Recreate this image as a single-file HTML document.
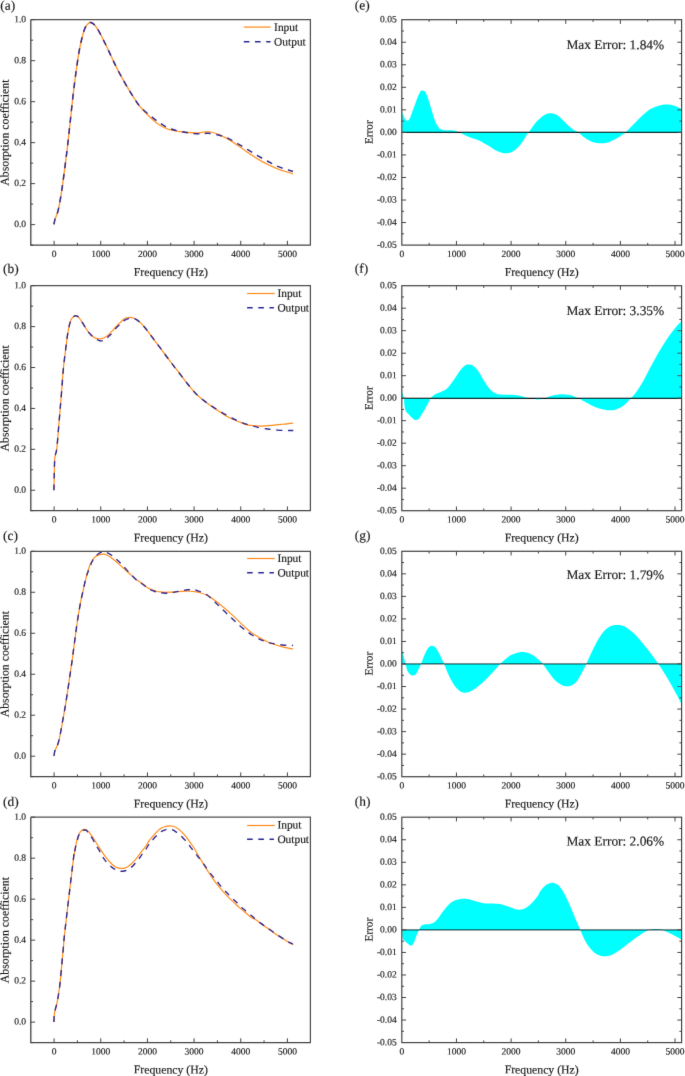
<!DOCTYPE html><html><head><meta charset="utf-8"><title>fig</title><style>html,body{margin:0;padding:0;background:#fff;overflow:hidden}svg{display:block}text{font-family:"Liberation Serif",serif;text-rendering:geometricPrecision;fill:#1a1a1a;stroke:#1a1a1a;stroke-width:0.16px}</style></head><body>
<svg width="685" height="1076" viewBox="0 0 685 1076">
<defs><filter id="bl" x="0" y="0" width="685" height="1076" filterUnits="userSpaceOnUse"><feConvolveMatrix order="3" kernelMatrix="0.0056 0.0638 0.0056 0.0638 0.7225 0.0638 0.0056 0.0638 0.0056" edgeMode="duplicate" preserveAlpha="false"/></filter></defs>
<rect width="685" height="1076" fill="#fff"/>
<g filter="url(#bl)">
<g>
<path d="M53.93 224.34C54.12 223.47 54.41 221.35 55.09 219.12C55.77 216.90 57.12 214.28 57.99 211.00C58.86 207.71 59.54 203.84 60.32 199.39C61.09 194.94 61.86 189.71 62.64 184.30C63.41 178.88 64.18 172.88 64.96 166.88C65.73 160.88 66.51 154.89 67.28 148.31C68.05 141.73 68.66 136.01 69.60 127.41C70.54 118.82 71.86 105.95 72.92 96.75C73.98 87.55 74.96 79.72 75.99 72.23C77.01 64.73 78.03 57.58 79.05 51.79C80.07 46.00 81.09 41.50 82.12 37.48C83.14 33.46 84.16 29.99 85.18 27.67C86.20 25.36 87.33 24.44 88.25 23.58C89.17 22.73 89.68 22.36 90.70 22.56C91.72 22.77 92.91 23.18 94.38 24.81C95.84 26.45 97.27 28.39 99.49 32.37C101.70 36.36 104.94 43.10 107.66 48.72C110.39 54.34 113.11 60.64 115.84 66.09C118.56 71.55 121.29 76.59 124.01 81.42C126.74 86.26 129.46 90.86 132.19 95.12C134.91 99.37 137.25 103.15 140.36 106.97C143.48 110.79 147.76 115.06 150.88 118.03C153.99 121.00 156.33 122.97 159.05 124.77C161.78 126.58 164.50 127.84 167.23 128.86C169.95 129.88 172.68 130.39 175.40 130.91C178.13 131.42 180.85 131.62 183.58 131.93C186.30 132.23 189.37 132.57 191.75 132.74C194.14 132.91 195.84 133.05 197.88 132.95C199.93 132.85 201.97 132.30 204.01 132.13C206.06 131.96 207.76 131.55 210.15 131.93C212.53 132.30 215.47 133.26 218.32 134.38C221.17 135.50 224.04 136.84 227.23 138.64C230.41 140.44 234.04 142.90 237.45 145.18C240.85 147.46 244.26 150.02 247.66 152.34C251.07 154.65 254.48 157.04 257.88 159.08C261.29 161.12 264.70 162.93 268.10 164.60C271.51 166.27 275.09 167.83 278.32 169.09C281.56 170.36 285.07 171.38 287.52 172.16C289.97 172.94 292.12 173.52 293.04 173.80" fill="none" stroke="#ff9a35" stroke-width="1.40" stroke-linejoin="round"/>
<path d="M53.93 224.34C54.12 223.47 54.41 221.35 55.09 219.12C55.77 216.90 57.12 214.28 57.99 211.00C58.86 207.71 59.54 203.84 60.32 199.39C61.09 194.94 61.86 189.71 62.64 184.30C63.41 178.88 64.18 172.88 64.96 166.88C65.73 160.88 66.51 154.89 67.28 148.31C68.05 141.73 68.66 136.01 69.60 127.41C70.54 118.82 71.86 105.95 72.92 96.75C73.98 87.55 74.96 79.72 75.99 72.23C77.01 64.73 78.03 57.58 79.05 51.79C80.07 46.00 81.09 41.50 82.12 37.48C83.14 33.46 84.16 29.99 85.18 27.67C86.20 25.36 87.33 24.44 88.25 23.58C89.17 22.73 89.68 22.36 90.70 22.56C91.72 22.77 92.91 23.18 94.38 24.81C95.84 26.45 97.27 28.39 99.49 32.37C101.70 36.36 104.94 43.10 107.66 48.72C110.39 54.34 113.11 60.64 115.84 66.09C118.56 71.55 121.29 76.59 124.01 81.42C126.74 86.26 129.46 90.86 132.19 95.12C134.91 99.37 137.25 103.46 140.36 106.97C143.48 110.48 147.76 113.60 150.88 116.19C153.99 118.78 156.33 120.65 159.05 122.53C161.78 124.40 164.50 126.14 167.23 127.43C169.95 128.73 172.68 129.54 175.40 130.29C178.13 131.04 180.85 131.42 183.58 131.93C186.30 132.44 189.03 133.05 191.75 133.36C194.48 133.66 197.20 133.77 199.93 133.77C202.65 133.77 205.04 133.15 208.10 133.36C211.17 133.56 215.13 134.21 218.32 134.99C221.51 135.77 224.04 136.60 227.23 138.03C230.41 139.45 234.04 141.61 237.45 143.55C240.85 145.49 244.26 147.64 247.66 149.68C251.07 151.72 254.48 153.83 257.88 155.81C261.29 157.79 264.70 159.73 268.10 161.53C271.51 163.34 274.57 165.11 278.32 166.64C282.07 168.18 288.13 169.95 290.58 170.73C293.04 171.51 292.63 171.24 293.04 171.34" fill="none" stroke="#2c2a90" stroke-width="1.50" stroke-dasharray="6.000 5.468" stroke-linejoin="round"/>
<path d="M30.80 19.70H310.40V245.10" fill="none" stroke="#505050" stroke-width="1.25"/>
<path d="M30.80 19.70V245.10H310.80" fill="none" stroke="#444" stroke-width="1.3"/>
<path d="M54.10 245.10v-4.3M100.76 245.10v-4.3M147.42 245.10v-4.3M194.08 245.10v-4.3M240.74 245.10v-4.3M287.40 245.10v-4.3M77.43 245.10v-2.3M124.09 245.10v-2.3M170.75 245.10v-2.3M217.41 245.10v-2.3M264.07 245.10v-2.3M30.80 224.61h4.3M30.80 183.63h4.3M30.80 142.65h4.3M30.80 101.66h4.3M30.80 60.68h4.3M30.80 19.70h4.3M30.80 245.10h2.3M30.80 204.12h2.3M30.80 163.14h2.3M30.80 122.15h2.3M30.80 81.17h2.3M30.80 40.19h2.3" fill="none" stroke="#444" stroke-width="1"/>
<text transform="rotate(0.03 54.10 256.90)" x="54.10" y="256.90" font-size="9.5" text-anchor="middle">0</text>
<text transform="rotate(0.03 100.76 256.90)" x="100.76" y="256.90" font-size="9.5" text-anchor="middle">1000</text>
<text transform="rotate(0.03 147.42 256.90)" x="147.42" y="256.90" font-size="9.5" text-anchor="middle">2000</text>
<text transform="rotate(0.03 194.08 256.90)" x="194.08" y="256.90" font-size="9.5" text-anchor="middle">3000</text>
<text transform="rotate(0.03 240.74 256.90)" x="240.74" y="256.90" font-size="9.5" text-anchor="middle">4000</text>
<text transform="rotate(0.03 287.40 256.90)" x="287.40" y="256.90" font-size="9.5" text-anchor="middle">5000</text>
<text transform="rotate(0.03 26.00 227.11)" x="26.00" y="227.11" font-size="9.5" text-anchor="end">0.0</text>
<text transform="rotate(0.03 26.00 186.13)" x="26.00" y="186.13" font-size="9.5" text-anchor="end">0.2</text>
<text transform="rotate(0.03 26.00 145.15)" x="26.00" y="145.15" font-size="9.5" text-anchor="end">0.4</text>
<text transform="rotate(0.03 26.00 104.16)" x="26.00" y="104.16" font-size="9.5" text-anchor="end">0.6</text>
<text transform="rotate(0.03 26.00 63.18)" x="26.00" y="63.18" font-size="9.5" text-anchor="end">0.8</text>
<text transform="rotate(0.03 26.00 22.20)" x="26.00" y="22.20" font-size="9.5" text-anchor="end">1.0</text>
<text transform="rotate(0.03 170.80 275.90)" x="170.80" y="275.90" font-size="11.75" text-anchor="middle">Frequency (Hz)</text>
<text transform="translate(8.60 132.60) rotate(-89.97)" font-size="11.8" text-anchor="middle">Absorption coefficient</text>
<text transform="rotate(0.03 0.30 9.70)" x="0.30" y="9.70" font-size="13.4">(a)</text>
<path d="M243.80 27.10h26.8" stroke="#ff9a35" stroke-width="1.40"/>
<path d="M243.80 41.70h26.8" stroke="#2c2a90" stroke-width="1.50" stroke-dasharray="5.6 5.6"/>
<text transform="rotate(0.03 274.10 31.10)" x="274.10" y="31.10" font-size="11.4">Input</text>
<text transform="rotate(0.03 274.10 45.40)" x="274.10" y="45.40" font-size="11.4">Output</text>
</g>
<g>
<path d="M402.10 111.77C402.35 112.42 403.10 114.42 403.61 115.66C404.12 116.91 404.56 118.37 405.15 119.22C405.75 120.07 406.51 120.76 407.19 120.76C407.87 120.76 408.56 120.24 409.24 119.22C409.92 118.20 410.61 116.33 411.29 114.63C411.97 112.93 412.64 110.89 413.33 109.02C414.01 107.14 414.70 105.26 415.38 103.39C416.06 101.51 416.73 99.48 417.41 97.78C418.09 96.08 418.78 94.38 419.46 93.18C420.15 91.99 420.65 90.93 421.50 90.62C422.35 90.31 423.71 90.66 424.57 91.34C425.42 92.02 425.94 93.21 426.62 94.71C427.30 96.20 427.97 98.27 428.65 100.32C429.33 102.36 430.02 104.66 430.70 106.96C431.39 109.26 432.06 111.90 432.74 114.12C433.42 116.33 434.11 118.47 434.79 120.26C435.47 122.05 436.14 123.61 436.82 124.85C437.50 126.09 438.19 126.96 438.88 127.71C439.56 128.46 440.06 128.93 440.91 129.34C441.76 129.75 442.61 130.01 443.98 130.16C445.34 130.32 447.56 130.22 449.10 130.27C450.63 130.32 451.82 130.26 453.18 130.46C454.55 130.66 454.83 130.51 457.27 131.50C459.71 132.48 464.33 134.94 467.85 136.39C471.38 137.84 475.26 138.79 478.44 140.20C481.61 141.61 484.08 143.20 486.91 144.85C489.73 146.51 492.90 148.84 495.37 150.15C497.84 151.45 499.96 152.16 501.72 152.69C503.49 153.22 504.37 153.39 505.96 153.32C507.54 153.25 509.48 153.04 511.25 152.26C513.01 151.49 514.78 150.25 516.54 148.66C518.30 147.08 520.07 145.14 521.83 142.74C523.60 140.34 525.96 136.03 527.12 134.27C528.29 132.51 527.41 134.09 528.82 132.15C530.23 130.21 533.73 124.92 535.59 122.63C537.45 120.33 538.38 119.73 540.00 118.39C541.62 117.05 543.53 115.43 545.29 114.58C547.06 113.74 548.82 113.31 550.58 113.31C552.35 113.31 554.11 113.74 555.88 114.58C557.64 115.43 559.23 116.70 561.17 118.39C563.11 120.09 565.40 122.80 567.52 124.74C569.64 126.68 572.10 128.80 573.87 130.04C575.63 131.27 576.34 130.92 578.10 132.15C579.87 133.39 582.16 135.86 584.45 137.45C586.75 139.03 589.04 140.69 591.86 141.68C594.68 142.67 598.39 143.37 601.39 143.37C604.39 143.37 607.21 142.56 609.85 141.68C612.50 140.80 614.97 139.39 617.26 138.08C619.56 136.77 622.20 134.83 623.61 133.85C625.02 132.86 624.14 133.67 625.73 132.15C627.32 130.64 630.49 127.39 633.14 124.74C635.78 122.10 638.78 118.85 641.61 116.28C644.43 113.70 647.25 111.06 650.07 109.29C652.90 107.53 655.72 106.50 658.54 105.69C661.36 104.88 664.36 104.42 667.01 104.42C669.65 104.42 672.03 104.95 674.42 105.69C676.80 106.43 680.15 108.34 681.30 108.87L681.30 132.40L402.10 132.40Z" fill="#00ffff" stroke="none"/>
<path d="M401.80 132.40H681.60" stroke="#000" stroke-opacity="0.95" stroke-width="1.3"/>
<rect x="401.80" y="19.70" width="279.80" height="225.40" fill="none" stroke="#444" stroke-width="1.2"/>
<path d="M456.45 245.10v-4.2M456.45 19.70v4.2M511.10 245.10v-4.2M511.10 19.70v4.2M565.75 245.10v-4.2M565.75 19.70v4.2M620.39 245.10v-4.2M620.39 19.70v4.2M675.04 245.10v-4.2M675.04 19.70v4.2M429.12 245.10v-2.2M429.12 19.70v2.2M483.77 245.10v-2.2M483.77 19.70v2.2M538.42 245.10v-2.2M538.42 19.70v2.2M593.07 245.10v-2.2M593.07 19.70v2.2M647.72 245.10v-2.2M647.72 19.70v2.2M401.80 42.24h4.2M681.60 42.24h-4.2M401.80 64.78h4.2M681.60 64.78h-4.2M401.80 87.32h4.2M681.60 87.32h-4.2M401.80 109.86h4.2M681.60 109.86h-4.2M401.80 132.40h4.2M681.60 132.40h-4.2M401.80 154.94h4.2M681.60 154.94h-4.2M401.80 177.48h4.2M681.60 177.48h-4.2M401.80 200.02h4.2M681.60 200.02h-4.2M401.80 222.56h4.2M681.60 222.56h-4.2M401.80 30.97h2.2M681.60 30.97h-2.2M401.80 53.51h2.2M681.60 53.51h-2.2M401.80 76.05h2.2M681.60 76.05h-2.2M401.80 98.59h2.2M681.60 98.59h-2.2M401.80 121.13h2.2M681.60 121.13h-2.2M401.80 143.67h2.2M681.60 143.67h-2.2M401.80 166.21h2.2M681.60 166.21h-2.2M401.80 188.75h2.2M681.60 188.75h-2.2M401.80 211.29h2.2M681.60 211.29h-2.2M401.80 233.83h2.2M681.60 233.83h-2.2" fill="none" stroke="#444" stroke-width="1"/>
<text transform="rotate(0.03 401.80 256.90)" x="401.80" y="256.90" font-size="9.5" text-anchor="middle">0</text>
<text transform="rotate(0.03 456.45 256.90)" x="456.45" y="256.90" font-size="9.5" text-anchor="middle">1000</text>
<text transform="rotate(0.03 511.10 256.90)" x="511.10" y="256.90" font-size="9.5" text-anchor="middle">2000</text>
<text transform="rotate(0.03 565.75 256.90)" x="565.75" y="256.90" font-size="9.5" text-anchor="middle">3000</text>
<text transform="rotate(0.03 620.39 256.90)" x="620.39" y="256.90" font-size="9.5" text-anchor="middle">4000</text>
<text transform="rotate(0.03 675.04 256.90)" x="675.04" y="256.90" font-size="9.5" text-anchor="middle">5000</text>
<text transform="rotate(0.03 396.70 22.30)" x="396.70" y="22.30" font-size="9.5" text-anchor="end">0.05</text>
<text transform="rotate(0.03 396.70 44.84)" x="396.70" y="44.84" font-size="9.5" text-anchor="end">0.04</text>
<text transform="rotate(0.03 396.70 67.38)" x="396.70" y="67.38" font-size="9.5" text-anchor="end">0.03</text>
<text transform="rotate(0.03 396.70 89.92)" x="396.70" y="89.92" font-size="9.5" text-anchor="end">0.02</text>
<text transform="rotate(0.03 396.70 112.46)" x="396.70" y="112.46" font-size="9.5" text-anchor="end">0.01</text>
<text transform="rotate(0.03 396.70 135.00)" x="396.70" y="135.00" font-size="9.5" text-anchor="end">0.00</text>
<text transform="rotate(0.03 396.70 157.54)" x="396.70" y="157.54" font-size="9.5" text-anchor="end">-0.01</text>
<text transform="rotate(0.03 396.70 180.08)" x="396.70" y="180.08" font-size="9.5" text-anchor="end">-0.02</text>
<text transform="rotate(0.03 396.70 202.62)" x="396.70" y="202.62" font-size="9.5" text-anchor="end">-0.03</text>
<text transform="rotate(0.03 396.70 225.16)" x="396.70" y="225.16" font-size="9.5" text-anchor="end">-0.04</text>
<text transform="rotate(0.03 396.70 247.70)" x="396.70" y="247.70" font-size="9.5" text-anchor="end">-0.05</text>
<text transform="rotate(0.03 541.70 275.90)" x="541.70" y="275.90" font-size="11.75" text-anchor="middle">Frequency (Hz)</text>
<text transform="translate(372.40 132.20) rotate(-89.97)" font-size="11.3" text-anchor="middle">Error</text>
<text transform="rotate(0.03 354.8 9.50)" x="354.8" y="9.50" font-size="13.4">(e)</text>
<text transform="rotate(0.03 566.4 49.10)" x="566.4" y="49.10" font-size="13.4">Max Error: 1.84%</text>
</g>
<g>
<path d="M53.93 490.35C53.99 487.75 54.12 480.13 54.27 474.75C54.42 469.36 54.42 462.30 54.82 458.03C55.23 453.75 56.13 453.75 56.72 449.11C57.31 444.46 57.83 436.66 58.39 430.16C58.95 423.66 59.51 416.78 60.06 410.10C60.62 403.41 61.16 397.15 61.74 390.03C62.31 382.92 62.75 374.91 63.50 367.40C64.25 359.89 65.61 350.08 66.24 344.96C66.87 339.84 66.92 339.08 67.26 336.68C67.60 334.28 67.94 332.42 68.28 330.55C68.63 328.67 68.97 326.89 69.31 325.44C69.65 323.99 69.95 322.97 70.33 321.86C70.70 320.75 70.87 319.77 71.55 318.80C72.24 317.82 73.43 316.46 74.42 316.04C75.40 315.61 76.43 315.56 77.48 316.24C78.54 316.92 79.90 319.02 80.75 320.12C81.60 321.23 81.94 321.86 82.59 322.88C83.24 323.91 83.95 325.15 84.64 326.26C85.32 327.36 86.00 328.50 86.68 329.53C87.36 330.55 88.04 331.54 88.72 332.39C89.40 333.24 90.09 333.95 90.77 334.64C91.45 335.32 92.13 335.96 92.81 336.47C93.49 336.99 94.17 337.36 94.85 337.70C95.54 338.04 95.88 338.31 96.90 338.52C97.92 338.72 99.45 339.23 100.99 338.93C102.52 338.62 104.90 337.34 106.09 336.68C107.29 336.01 107.37 335.62 108.14 334.94C108.91 334.26 109.88 333.41 110.69 332.59C111.51 331.77 112.28 330.89 113.04 330.04C113.81 329.18 114.49 328.37 115.29 327.48C116.09 326.60 117.00 325.57 117.85 324.72C118.70 323.87 119.34 323.36 120.40 322.37C121.46 321.38 123.05 319.56 124.20 318.80C125.34 318.03 126.24 318.00 127.26 317.77C128.28 317.55 129.31 317.43 130.33 317.47C131.35 317.50 132.37 317.64 133.39 317.98C134.42 318.32 135.44 318.86 136.46 319.51C137.48 320.16 138.50 320.96 139.53 321.86C140.55 322.76 141.57 323.82 142.59 324.93C143.61 326.03 144.64 327.23 145.66 328.50C146.68 329.78 147.70 331.23 148.72 332.59C149.74 333.95 150.77 335.32 151.79 336.68C152.81 338.04 153.83 339.40 154.85 340.77C155.88 342.13 156.90 343.49 157.92 344.85C158.94 346.22 159.96 347.56 160.99 348.94C162.01 350.32 163.03 351.75 164.05 353.13C165.07 354.51 166.09 355.86 167.12 357.22C168.14 358.58 169.16 359.94 170.18 361.31C171.20 362.67 172.45 364.33 173.25 365.39C174.05 366.45 174.03 366.43 175.00 367.66C175.97 368.89 177.73 371.02 179.09 372.77C180.45 374.53 181.81 376.40 183.18 378.19C184.54 379.98 185.90 381.80 187.26 383.50C188.63 385.21 189.99 386.79 191.35 388.41C192.71 390.03 194.08 391.78 195.44 393.21C196.80 394.64 198.16 395.80 199.53 396.99C200.89 398.18 202.25 399.29 203.61 400.36C204.98 401.44 206.34 402.41 207.70 403.43C209.06 404.45 210.43 405.51 211.79 406.50C213.15 407.48 214.51 408.42 215.88 409.36C217.24 410.29 218.60 411.23 219.96 412.12C221.33 413.00 222.69 413.85 224.05 414.67C225.41 415.49 226.78 416.29 228.14 417.02C229.50 417.75 230.86 418.44 232.23 419.07C233.59 419.70 234.95 420.26 236.31 420.80C237.68 421.35 238.92 421.73 240.40 422.34C241.89 422.94 243.56 423.91 245.22 424.43C246.87 424.95 248.63 425.20 250.33 425.45C252.03 425.71 253.73 425.86 255.44 425.96C257.14 426.07 258.84 426.08 260.55 426.07C262.25 426.05 263.95 425.96 265.66 425.86C267.36 425.76 269.06 425.61 270.77 425.45C272.47 425.30 274.17 425.11 275.88 424.94C277.58 424.77 279.28 424.60 280.99 424.43C282.69 424.26 284.56 424.09 286.09 423.92C287.63 423.75 288.99 423.55 290.18 423.41C291.37 423.27 292.74 423.15 293.25 423.10" fill="none" stroke="#ff8c1a" stroke-width="1.20" stroke-linejoin="round"/>
<path d="M53.93 490.35C53.99 487.75 54.12 480.13 54.27 474.75C54.42 469.36 54.42 462.30 54.82 458.03C55.23 453.75 56.13 453.75 56.72 449.11C57.31 444.46 57.83 436.66 58.39 430.16C58.95 423.66 59.51 416.78 60.06 410.10C60.62 403.41 61.16 397.15 61.74 390.03C62.31 382.92 62.75 374.91 63.50 367.40C64.25 359.89 65.61 350.08 66.24 344.96C66.87 339.84 66.92 339.08 67.26 336.68C67.60 334.28 67.94 332.42 68.28 330.55C68.63 328.67 68.97 326.89 69.31 325.44C69.65 323.99 69.95 322.97 70.33 321.86C70.70 320.75 70.87 319.77 71.55 318.80C72.24 317.82 73.43 316.46 74.42 316.04C75.40 315.61 76.43 315.56 77.48 316.24C78.54 316.92 79.90 319.02 80.75 320.12C81.60 321.23 81.94 321.86 82.59 322.88C83.24 323.91 83.95 325.15 84.64 326.26C85.32 327.36 86.00 328.50 86.68 329.53C87.36 330.55 88.04 331.54 88.72 332.39C89.40 333.24 90.09 333.94 90.77 334.64C91.45 335.33 92.13 336.01 92.81 336.58C93.49 337.14 94.09 337.48 94.85 338.01C95.62 338.54 96.56 339.28 97.41 339.74C98.26 340.20 99.11 340.60 99.96 340.77C100.82 340.94 101.67 340.89 102.52 340.77C103.37 340.65 104.05 340.80 105.07 340.05C106.09 339.30 107.71 337.21 108.65 336.27C109.59 335.33 110.01 335.08 110.69 334.43C111.37 333.78 111.80 333.51 112.74 332.39C113.67 331.26 115.12 329.01 116.31 327.69C117.51 326.36 118.92 325.34 119.89 324.42C120.86 323.50 121.27 322.93 122.15 322.17C123.04 321.40 123.86 320.50 125.22 319.82C126.58 319.14 128.97 318.34 130.33 318.08C131.69 317.82 132.37 318.03 133.39 318.28C134.42 318.54 135.44 319.02 136.46 319.61C137.48 320.21 138.50 320.98 139.53 321.86C140.55 322.75 141.57 323.82 142.59 324.93C143.61 326.03 144.64 327.23 145.66 328.50C146.68 329.78 147.70 331.23 148.72 332.59C149.74 333.95 150.77 335.32 151.79 336.68C152.81 338.04 153.83 339.40 154.85 340.77C155.88 342.13 156.90 343.49 157.92 344.85C158.94 346.22 159.96 347.56 160.99 348.94C162.01 350.32 163.03 351.75 164.05 353.13C165.07 354.51 166.09 355.86 167.12 357.22C168.14 358.58 169.16 359.94 170.18 361.31C171.20 362.67 172.45 364.33 173.25 365.39C174.05 366.45 174.03 366.43 175.00 367.66C175.97 368.89 177.73 371.02 179.09 372.77C180.45 374.53 181.81 376.40 183.18 378.19C184.54 379.98 185.90 381.80 187.26 383.50C188.63 385.21 189.99 386.79 191.35 388.41C192.71 390.03 194.08 391.78 195.44 393.21C196.80 394.64 198.16 395.80 199.53 396.99C200.89 398.18 202.25 399.31 203.61 400.36C204.98 401.42 206.34 402.36 207.70 403.33C209.06 404.30 210.43 405.29 211.79 406.19C213.15 407.09 214.51 407.88 215.88 408.74C217.24 409.61 218.60 410.55 219.96 411.40C221.33 412.25 222.69 413.05 224.05 413.85C225.41 414.65 226.78 415.47 228.14 416.20C229.50 416.94 230.86 417.60 232.23 418.25C233.59 418.90 234.95 419.49 236.31 420.09C237.68 420.68 238.92 421.20 240.40 421.82C241.89 422.45 243.56 423.25 245.22 423.82C246.87 424.39 248.63 424.77 250.33 425.25C252.03 425.73 253.73 426.24 255.44 426.68C257.14 427.12 258.50 427.51 260.55 427.91C262.59 428.30 265.83 428.76 267.70 429.03C269.57 429.30 270.09 429.35 271.79 429.54C273.49 429.73 275.88 430.00 277.92 430.15C279.96 430.31 282.18 430.39 284.05 430.46C285.92 430.53 287.63 430.56 289.16 430.56C290.69 430.56 292.57 430.48 293.25 430.46" fill="none" stroke="#2c2a90" stroke-width="1.40" stroke-dasharray="6.000 5.703" stroke-linejoin="round"/>
<path d="M30.80 285.70H310.40V510.70" fill="none" stroke="#505050" stroke-width="1.25"/>
<path d="M30.80 285.70V510.70H310.80" fill="none" stroke="#444" stroke-width="1.3"/>
<path d="M54.10 510.70v-4.3M100.76 510.70v-4.3M147.42 510.70v-4.3M194.08 510.70v-4.3M240.74 510.70v-4.3M287.40 510.70v-4.3M77.43 510.70v-2.3M124.09 510.70v-2.3M170.75 510.70v-2.3M217.41 510.70v-2.3M264.07 510.70v-2.3M30.80 490.25h4.3M30.80 449.34h4.3M30.80 408.43h4.3M30.80 367.52h4.3M30.80 326.61h4.3M30.80 285.70h4.3M30.80 510.70h2.3M30.80 469.79h2.3M30.80 428.88h2.3M30.80 387.97h2.3M30.80 347.06h2.3M30.80 306.15h2.3" fill="none" stroke="#444" stroke-width="1"/>
<text transform="rotate(0.03 54.10 522.50)" x="54.10" y="522.50" font-size="9.5" text-anchor="middle">0</text>
<text transform="rotate(0.03 100.76 522.50)" x="100.76" y="522.50" font-size="9.5" text-anchor="middle">1000</text>
<text transform="rotate(0.03 147.42 522.50)" x="147.42" y="522.50" font-size="9.5" text-anchor="middle">2000</text>
<text transform="rotate(0.03 194.08 522.50)" x="194.08" y="522.50" font-size="9.5" text-anchor="middle">3000</text>
<text transform="rotate(0.03 240.74 522.50)" x="240.74" y="522.50" font-size="9.5" text-anchor="middle">4000</text>
<text transform="rotate(0.03 287.40 522.50)" x="287.40" y="522.50" font-size="9.5" text-anchor="middle">5000</text>
<text transform="rotate(0.03 26.00 492.75)" x="26.00" y="492.75" font-size="9.5" text-anchor="end">0.0</text>
<text transform="rotate(0.03 26.00 451.84)" x="26.00" y="451.84" font-size="9.5" text-anchor="end">0.2</text>
<text transform="rotate(0.03 26.00 410.93)" x="26.00" y="410.93" font-size="9.5" text-anchor="end">0.4</text>
<text transform="rotate(0.03 26.00 370.02)" x="26.00" y="370.02" font-size="9.5" text-anchor="end">0.6</text>
<text transform="rotate(0.03 26.00 329.11)" x="26.00" y="329.11" font-size="9.5" text-anchor="end">0.8</text>
<text transform="rotate(0.03 26.00 288.20)" x="26.00" y="288.20" font-size="9.5" text-anchor="end">1.0</text>
<text transform="rotate(0.03 170.80 541.50)" x="170.80" y="541.50" font-size="11.75" text-anchor="middle">Frequency (Hz)</text>
<text transform="translate(8.60 398.40) rotate(-89.97)" font-size="11.8" text-anchor="middle">Absorption coefficient</text>
<text transform="rotate(0.03 3.10 272.90)" x="3.10" y="272.90" font-size="13.4">(b)</text>
<path d="M247.10 293.50h27.6" stroke="#ff8c1a" stroke-width="1.20"/>
<path d="M247.10 307.70h26.8" stroke="#2c2a90" stroke-width="1.40" stroke-dasharray="5.6 5.6"/>
<text transform="rotate(0.03 277.40 297.10)" x="277.40" y="297.10" font-size="11.4">Input</text>
<text transform="rotate(0.03 277.40 311.40)" x="277.40" y="311.40" font-size="11.4">Output</text>
</g>
<g>
<path d="M402.10 391.50C402.40 392.59 403.52 395.59 403.93 398.06C404.34 400.53 404.21 404.06 404.56 406.31C404.91 408.57 405.37 410.30 406.04 411.61C406.71 412.91 407.45 413.02 408.58 414.15C409.71 415.27 411.58 417.39 412.82 418.38C414.05 419.37 414.93 420.07 415.99 420.07C417.05 420.07 417.93 419.79 419.17 418.38C420.40 416.97 421.99 413.97 423.40 411.61C424.81 409.24 426.40 406.45 427.64 404.20C428.87 401.94 429.58 399.72 430.81 398.06C432.05 396.40 433.46 395.24 435.04 394.25C436.63 393.26 438.40 393.05 440.34 392.13C442.28 391.21 444.57 390.61 446.69 388.74C448.80 386.87 450.92 383.81 453.04 380.91C455.15 378.02 457.45 373.93 459.39 371.39C461.33 368.85 463.09 366.84 464.68 365.67C466.27 364.51 467.50 364.40 468.91 364.40C470.32 364.40 471.56 364.51 473.15 365.67C474.73 366.84 476.50 368.67 478.44 371.39C480.38 374.10 482.67 378.80 484.79 381.97C486.91 385.15 489.02 388.43 491.14 390.44C493.26 392.45 495.37 393.33 497.49 394.04C499.61 394.74 501.37 394.57 503.84 394.67C506.31 394.78 509.84 394.53 512.31 394.67C514.78 394.81 516.54 395.09 518.66 395.52C520.77 395.94 523.24 396.79 525.01 397.21C526.77 397.64 527.48 397.71 529.24 398.06C531.00 398.41 533.80 399.12 535.59 399.33C537.38 399.54 538.21 399.61 540.00 399.33C541.79 399.05 544.23 398.27 546.35 397.64C548.47 397.00 550.23 396.08 552.70 395.52C555.17 394.95 558.35 394.32 561.17 394.25C563.99 394.18 566.99 394.53 569.64 395.09C572.28 395.66 575.46 397.07 577.04 397.64C578.63 398.20 577.57 397.64 579.16 398.48C580.75 399.33 583.92 401.30 586.57 402.72C589.22 404.13 592.21 405.82 595.04 406.95C597.86 408.08 601.03 408.92 603.50 409.49C605.97 410.05 607.74 410.34 609.85 410.34C611.97 410.34 614.09 410.16 616.20 409.49C618.32 408.82 620.61 407.65 622.55 406.31C624.50 404.97 626.44 402.79 627.85 401.45C629.26 400.10 629.47 400.07 631.02 398.27C632.57 396.47 635.10 393.58 637.16 390.65C639.22 387.72 641.32 384.37 643.41 380.70C645.49 377.03 647.59 372.52 649.65 368.64C651.71 364.75 653.74 361.01 655.79 357.42C657.83 353.82 659.86 350.40 661.93 347.04C663.99 343.69 666.11 340.31 668.19 337.31C670.27 334.31 672.55 331.38 674.42 329.05C676.28 326.72 678.24 324.64 679.39 323.34C680.54 322.03 680.98 321.57 681.30 321.22L681.30 398.40L402.10 398.40Z" fill="#00ffff" stroke="none"/>
<path d="M401.80 398.40H681.60" stroke="#000" stroke-opacity="0.95" stroke-width="1.3"/>
<rect x="401.80" y="285.70" width="279.80" height="225.00" fill="none" stroke="#444" stroke-width="1.2"/>
<path d="M456.45 510.70v-4.2M456.45 285.70v4.2M511.10 510.70v-4.2M511.10 285.70v4.2M565.75 510.70v-4.2M565.75 285.70v4.2M620.39 510.70v-4.2M620.39 285.70v4.2M675.04 510.70v-4.2M675.04 285.70v4.2M429.12 510.70v-2.2M429.12 285.70v2.2M483.77 510.70v-2.2M483.77 285.70v2.2M538.42 510.70v-2.2M538.42 285.70v2.2M593.07 510.70v-2.2M593.07 285.70v2.2M647.72 510.70v-2.2M647.72 285.70v2.2M401.80 308.20h4.2M681.60 308.20h-4.2M401.80 330.70h4.2M681.60 330.70h-4.2M401.80 353.20h4.2M681.60 353.20h-4.2M401.80 375.70h4.2M681.60 375.70h-4.2M401.80 398.20h4.2M681.60 398.20h-4.2M401.80 420.70h4.2M681.60 420.70h-4.2M401.80 443.20h4.2M681.60 443.20h-4.2M401.80 465.70h4.2M681.60 465.70h-4.2M401.80 488.20h4.2M681.60 488.20h-4.2M401.80 296.95h2.2M681.60 296.95h-2.2M401.80 319.45h2.2M681.60 319.45h-2.2M401.80 341.95h2.2M681.60 341.95h-2.2M401.80 364.45h2.2M681.60 364.45h-2.2M401.80 386.95h2.2M681.60 386.95h-2.2M401.80 409.45h2.2M681.60 409.45h-2.2M401.80 431.95h2.2M681.60 431.95h-2.2M401.80 454.45h2.2M681.60 454.45h-2.2M401.80 476.95h2.2M681.60 476.95h-2.2M401.80 499.45h2.2M681.60 499.45h-2.2" fill="none" stroke="#444" stroke-width="1"/>
<text transform="rotate(0.03 401.80 522.50)" x="401.80" y="522.50" font-size="9.5" text-anchor="middle">0</text>
<text transform="rotate(0.03 456.45 522.50)" x="456.45" y="522.50" font-size="9.5" text-anchor="middle">1000</text>
<text transform="rotate(0.03 511.10 522.50)" x="511.10" y="522.50" font-size="9.5" text-anchor="middle">2000</text>
<text transform="rotate(0.03 565.75 522.50)" x="565.75" y="522.50" font-size="9.5" text-anchor="middle">3000</text>
<text transform="rotate(0.03 620.39 522.50)" x="620.39" y="522.50" font-size="9.5" text-anchor="middle">4000</text>
<text transform="rotate(0.03 675.04 522.50)" x="675.04" y="522.50" font-size="9.5" text-anchor="middle">5000</text>
<text transform="rotate(0.03 396.70 288.30)" x="396.70" y="288.30" font-size="9.5" text-anchor="end">0.05</text>
<text transform="rotate(0.03 396.70 310.80)" x="396.70" y="310.80" font-size="9.5" text-anchor="end">0.04</text>
<text transform="rotate(0.03 396.70 333.30)" x="396.70" y="333.30" font-size="9.5" text-anchor="end">0.03</text>
<text transform="rotate(0.03 396.70 355.80)" x="396.70" y="355.80" font-size="9.5" text-anchor="end">0.02</text>
<text transform="rotate(0.03 396.70 378.30)" x="396.70" y="378.30" font-size="9.5" text-anchor="end">0.01</text>
<text transform="rotate(0.03 396.70 400.80)" x="396.70" y="400.80" font-size="9.5" text-anchor="end">0.00</text>
<text transform="rotate(0.03 396.70 423.30)" x="396.70" y="423.30" font-size="9.5" text-anchor="end">-0.01</text>
<text transform="rotate(0.03 396.70 445.80)" x="396.70" y="445.80" font-size="9.5" text-anchor="end">-0.02</text>
<text transform="rotate(0.03 396.70 468.30)" x="396.70" y="468.30" font-size="9.5" text-anchor="end">-0.03</text>
<text transform="rotate(0.03 396.70 490.80)" x="396.70" y="490.80" font-size="9.5" text-anchor="end">-0.04</text>
<text transform="rotate(0.03 396.70 513.30)" x="396.70" y="513.30" font-size="9.5" text-anchor="end">-0.05</text>
<text transform="rotate(0.03 541.70 541.50)" x="541.70" y="541.50" font-size="11.75" text-anchor="middle">Frequency (Hz)</text>
<text transform="translate(372.40 398.20) rotate(-89.97)" font-size="11.3" text-anchor="middle">Error</text>
<text transform="rotate(0.03 354.8 272.70)" x="354.8" y="272.70" font-size="13.4">(f)</text>
<text transform="rotate(0.03 566.4 314.90)" x="566.4" y="314.90" font-size="13.4">Max Error: 3.35%</text>
</g>
<g>
<path d="M53.93 755.91C54.12 754.98 54.40 752.29 55.05 750.33C55.70 748.38 57.00 746.71 57.83 744.20C58.67 741.70 59.32 738.82 60.06 735.29C60.81 731.76 61.46 727.67 62.29 723.03C63.13 718.38 64.15 712.99 65.08 707.42C66.01 701.85 66.94 695.72 67.87 689.59C68.80 683.46 69.90 675.81 70.65 670.64C71.41 665.46 71.87 662.45 72.41 658.54C72.94 654.63 73.38 650.88 73.87 647.15C74.36 643.43 74.84 639.85 75.33 636.20C75.82 632.55 76.24 629.03 76.79 625.26C77.34 621.48 77.94 617.59 78.61 613.58C79.28 609.56 80.01 605.18 80.80 601.17C81.59 597.15 82.47 593.41 83.36 589.49C84.25 585.57 85.24 581.14 86.13 577.64C87.02 574.13 87.83 570.99 88.69 568.44C89.54 565.88 90.30 564.09 91.24 562.31C92.18 560.52 93.28 558.87 94.31 557.71C95.33 556.55 96.35 555.92 97.37 555.36C98.39 554.80 99.42 554.54 100.44 554.34C101.46 554.13 102.48 554.03 103.50 554.13C104.53 554.23 105.38 554.44 106.57 554.95C107.76 555.46 109.12 556.14 110.66 557.20C112.19 558.25 114.06 559.84 115.77 561.28C117.47 562.73 119.17 564.35 120.88 565.88C122.58 567.42 124.28 568.95 125.99 570.48C127.69 572.01 129.22 573.46 131.09 575.08C132.97 576.70 135.18 578.66 137.23 580.19C139.27 581.72 141.53 582.98 143.36 584.28C145.18 585.58 146.69 587.04 148.18 587.99C149.66 588.93 150.90 589.38 152.26 589.93C153.63 590.47 154.99 590.91 156.35 591.26C157.71 591.60 158.91 591.80 160.44 591.97C161.97 592.14 163.84 592.24 165.55 592.28C167.25 592.31 168.95 592.24 170.66 592.18C172.36 592.11 174.06 591.99 175.77 591.87C177.47 591.75 179.17 591.58 180.88 591.46C182.58 591.34 184.28 591.19 185.99 591.15C187.69 591.12 189.56 591.15 191.09 591.26C192.63 591.36 193.93 591.59 195.18 591.77C196.44 591.94 196.68 591.73 198.61 592.29C200.55 592.86 204.06 593.79 206.79 595.15C209.51 596.52 212.24 598.49 214.96 600.47C217.69 602.44 220.41 604.73 223.14 607.01C225.86 609.29 228.59 611.67 231.31 614.16C234.04 616.65 236.76 619.37 239.49 621.93C242.21 624.48 244.94 627.21 247.66 629.49C250.39 631.77 253.11 633.85 255.84 635.62C258.56 637.39 261.29 638.75 264.01 640.12C266.74 641.48 269.12 642.67 272.19 643.80C275.26 644.92 278.93 645.98 282.41 646.86C285.88 647.75 291.27 648.73 293.04 649.11" fill="none" stroke="#ff8c1a" stroke-width="1.20" stroke-linejoin="round"/>
<path d="M53.93 755.91C54.12 754.98 54.40 752.29 55.05 750.33C55.70 748.38 57.00 746.71 57.83 744.20C58.67 741.70 59.32 738.82 60.06 735.29C60.81 731.76 61.46 727.67 62.29 723.03C63.13 718.38 64.15 712.99 65.08 707.42C66.01 701.85 66.94 695.72 67.87 689.59C68.80 683.46 69.90 675.81 70.65 670.64C71.41 665.46 71.87 662.45 72.41 658.54C72.94 654.63 73.38 650.88 73.87 647.15C74.36 643.43 74.84 639.85 75.33 636.20C75.82 632.55 76.24 629.03 76.79 625.26C77.34 621.48 77.94 617.59 78.61 613.58C79.28 609.56 80.01 605.18 80.80 601.17C81.59 597.15 82.47 593.50 83.36 589.49C84.25 585.48 85.29 580.21 86.13 577.12C86.97 574.04 87.36 573.63 88.38 570.99C89.40 568.35 90.93 563.84 92.26 561.28C93.59 558.73 95.07 557.06 96.35 555.66C97.63 554.27 98.82 553.54 99.93 552.91C101.03 552.27 102.06 552.02 102.99 551.88C103.93 551.75 104.36 551.68 105.55 552.09C106.74 552.50 108.61 553.40 110.15 554.34C111.68 555.27 113.21 556.41 114.74 557.71C116.28 559.00 117.90 560.69 119.34 562.10C120.79 563.52 121.81 564.45 123.43 566.19C125.05 567.93 127.01 570.36 129.05 572.53C131.09 574.69 133.91 577.55 135.69 579.17C137.48 580.79 138.08 580.99 139.78 582.23C141.48 583.48 144.43 585.52 145.91 586.63C147.40 587.74 147.29 588.13 148.69 588.91C150.09 589.68 152.52 590.66 154.31 591.26C156.09 591.85 157.54 592.14 159.42 592.48C161.29 592.82 163.67 593.23 165.55 593.30C167.42 593.37 168.78 593.16 170.66 592.89C172.53 592.62 174.91 592.02 176.79 591.66C178.66 591.31 180.02 591.07 181.90 590.74C183.77 590.42 186.07 589.89 188.03 589.72C189.99 589.55 191.89 589.50 193.65 589.72C195.41 589.95 196.42 590.23 198.61 591.07C200.80 591.90 204.06 592.94 206.79 594.74C209.51 596.55 212.24 599.34 214.96 601.90C217.69 604.45 220.41 607.42 223.14 610.07C225.86 612.73 228.59 615.28 231.31 617.84C234.04 620.39 236.76 623.05 239.49 625.40C242.21 627.75 244.94 629.97 247.66 631.94C250.39 633.92 253.11 635.76 255.84 637.26C258.56 638.75 261.29 639.91 264.01 640.93C266.74 641.96 269.12 642.71 272.19 643.39C275.26 644.07 278.93 644.68 282.41 645.02C285.88 645.36 291.27 645.36 293.04 645.43" fill="none" stroke="#2c2a90" stroke-width="1.40" stroke-dasharray="6.000 5.465" stroke-linejoin="round"/>
<path d="M30.80 551.30H310.40V776.70" fill="none" stroke="#505050" stroke-width="1.25"/>
<path d="M30.80 551.30V776.70H310.80" fill="none" stroke="#444" stroke-width="1.3"/>
<path d="M54.10 776.70v-4.3M100.76 776.70v-4.3M147.42 776.70v-4.3M194.08 776.70v-4.3M240.74 776.70v-4.3M287.40 776.70v-4.3M77.43 776.70v-2.3M124.09 776.70v-2.3M170.75 776.70v-2.3M217.41 776.70v-2.3M264.07 776.70v-2.3M30.80 756.21h4.3M30.80 715.23h4.3M30.80 674.25h4.3M30.80 633.26h4.3M30.80 592.28h4.3M30.80 551.30h4.3M30.80 776.70h2.3M30.80 735.72h2.3M30.80 694.74h2.3M30.80 653.75h2.3M30.80 612.77h2.3M30.80 571.79h2.3" fill="none" stroke="#444" stroke-width="1"/>
<text transform="rotate(0.03 54.10 788.50)" x="54.10" y="788.50" font-size="9.5" text-anchor="middle">0</text>
<text transform="rotate(0.03 100.76 788.50)" x="100.76" y="788.50" font-size="9.5" text-anchor="middle">1000</text>
<text transform="rotate(0.03 147.42 788.50)" x="147.42" y="788.50" font-size="9.5" text-anchor="middle">2000</text>
<text transform="rotate(0.03 194.08 788.50)" x="194.08" y="788.50" font-size="9.5" text-anchor="middle">3000</text>
<text transform="rotate(0.03 240.74 788.50)" x="240.74" y="788.50" font-size="9.5" text-anchor="middle">4000</text>
<text transform="rotate(0.03 287.40 788.50)" x="287.40" y="788.50" font-size="9.5" text-anchor="middle">5000</text>
<text transform="rotate(0.03 26.00 758.71)" x="26.00" y="758.71" font-size="9.5" text-anchor="end">0.0</text>
<text transform="rotate(0.03 26.00 717.73)" x="26.00" y="717.73" font-size="9.5" text-anchor="end">0.2</text>
<text transform="rotate(0.03 26.00 676.75)" x="26.00" y="676.75" font-size="9.5" text-anchor="end">0.4</text>
<text transform="rotate(0.03 26.00 635.76)" x="26.00" y="635.76" font-size="9.5" text-anchor="end">0.6</text>
<text transform="rotate(0.03 26.00 594.78)" x="26.00" y="594.78" font-size="9.5" text-anchor="end">0.8</text>
<text transform="rotate(0.03 26.00 553.80)" x="26.00" y="553.80" font-size="9.5" text-anchor="end">1.0</text>
<text transform="rotate(0.03 170.80 807.50)" x="170.80" y="807.50" font-size="11.75" text-anchor="middle">Frequency (Hz)</text>
<text transform="translate(8.60 664.20) rotate(-89.97)" font-size="11.8" text-anchor="middle">Absorption coefficient</text>
<text transform="rotate(0.03 3.10 540.00)" x="3.10" y="540.00" font-size="13.4">(c)</text>
<path d="M247.10 558.50h27.6" stroke="#ff8c1a" stroke-width="1.20"/>
<path d="M247.10 572.70h26.8" stroke="#2c2a90" stroke-width="1.40" stroke-dasharray="5.6 5.6"/>
<text transform="rotate(0.03 277.40 562.10)" x="277.40" y="562.10" font-size="11.4">Input</text>
<text transform="rotate(0.03 277.40 576.40)" x="277.40" y="576.40" font-size="11.4">Output</text>
</g>
<g>
<path d="M402.10 650.80C402.40 651.86 403.38 655.04 403.93 657.15C404.48 659.27 404.81 661.21 405.41 663.50C406.01 665.80 406.64 669.04 407.53 670.91C408.41 672.78 409.75 673.95 410.70 674.72C411.65 675.50 412.36 675.68 413.24 675.57C414.12 675.46 415.08 675.22 415.99 674.09C416.91 672.96 417.86 670.56 418.74 668.80C419.63 667.03 420.33 665.80 421.28 663.50C422.24 661.21 423.40 657.51 424.46 655.04C425.52 652.57 426.58 650.20 427.64 648.69C428.69 647.17 429.58 646.22 430.81 645.93C432.05 645.65 433.81 646.00 435.04 646.99C436.28 647.98 437.16 649.99 438.22 651.86C439.28 653.73 440.44 656.27 441.39 658.21C442.35 660.15 442.88 661.03 443.93 663.50C444.99 665.97 446.40 670.03 447.74 673.03C449.09 676.03 450.57 679.03 451.98 681.50C453.39 683.97 454.80 686.19 456.21 687.85C457.62 689.50 459.03 690.63 460.45 691.45C461.86 692.26 463.09 692.68 464.68 692.72C466.27 692.75 468.03 692.47 469.97 691.66C471.91 690.85 474.20 689.36 476.32 687.85C478.44 686.33 480.55 684.50 482.67 682.55C484.79 680.61 486.91 678.39 489.02 676.20C491.14 674.02 493.43 671.55 495.37 669.43C497.31 667.31 498.90 665.30 500.66 663.50C502.43 661.70 504.02 660.12 505.96 658.64C507.90 657.15 510.19 655.64 512.31 654.61C514.42 653.59 516.89 652.92 518.66 652.50C520.42 652.07 521.30 652.00 522.89 652.07C524.48 652.14 526.42 652.36 528.18 652.92C529.95 653.48 531.71 654.33 533.47 655.46C535.24 656.59 537.26 658.35 538.77 659.69C540.28 661.03 540.92 661.46 542.54 663.50C544.16 665.55 546.42 669.22 548.47 671.97C550.51 674.72 552.70 677.90 554.82 680.01C556.93 682.13 559.12 683.61 561.17 684.67C563.21 685.73 565.15 686.36 567.09 686.36C569.04 686.36 570.98 685.84 572.81 684.67C574.64 683.51 576.34 681.85 578.10 679.38C579.87 676.91 581.98 672.50 583.39 669.85C584.81 667.21 585.16 666.50 586.57 663.50C587.98 660.50 590.10 655.57 591.86 651.86C593.63 648.16 595.21 644.63 597.15 641.28C599.09 637.93 601.39 634.22 603.50 631.75C605.62 629.28 607.56 627.59 609.85 626.46C612.15 625.33 614.79 624.98 617.26 624.98C619.73 624.98 622.03 625.15 624.67 626.46C627.32 627.77 630.32 630.23 633.14 632.81C635.96 635.39 638.78 638.63 641.61 641.91C644.43 645.19 647.32 648.90 650.07 652.50C652.82 656.09 655.65 659.91 658.12 663.50C660.59 667.10 662.70 670.56 664.89 674.09C667.08 677.62 669.12 680.97 671.24 684.67C673.36 688.38 675.91 693.14 677.59 696.31C679.27 699.49 680.68 702.49 681.30 703.72L681.30 663.90L402.10 663.90Z" fill="#00ffff" stroke="none"/>
<path d="M401.80 663.90H681.60" stroke="#000" stroke-opacity="0.72" stroke-width="1.3"/>
<rect x="401.80" y="551.30" width="279.80" height="225.40" fill="none" stroke="#444" stroke-width="1.2"/>
<path d="M456.45 776.70v-4.2M456.45 551.30v4.2M511.10 776.70v-4.2M511.10 551.30v4.2M565.75 776.70v-4.2M565.75 551.30v4.2M620.39 776.70v-4.2M620.39 551.30v4.2M675.04 776.70v-4.2M675.04 551.30v4.2M429.12 776.70v-2.2M429.12 551.30v2.2M483.77 776.70v-2.2M483.77 551.30v2.2M538.42 776.70v-2.2M538.42 551.30v2.2M593.07 776.70v-2.2M593.07 551.30v2.2M647.72 776.70v-2.2M647.72 551.30v2.2M401.80 573.84h4.2M681.60 573.84h-4.2M401.80 596.38h4.2M681.60 596.38h-4.2M401.80 618.92h4.2M681.60 618.92h-4.2M401.80 641.46h4.2M681.60 641.46h-4.2M401.80 664.00h4.2M681.60 664.00h-4.2M401.80 686.54h4.2M681.60 686.54h-4.2M401.80 709.08h4.2M681.60 709.08h-4.2M401.80 731.62h4.2M681.60 731.62h-4.2M401.80 754.16h4.2M681.60 754.16h-4.2M401.80 562.57h2.2M681.60 562.57h-2.2M401.80 585.11h2.2M681.60 585.11h-2.2M401.80 607.65h2.2M681.60 607.65h-2.2M401.80 630.19h2.2M681.60 630.19h-2.2M401.80 652.73h2.2M681.60 652.73h-2.2M401.80 675.27h2.2M681.60 675.27h-2.2M401.80 697.81h2.2M681.60 697.81h-2.2M401.80 720.35h2.2M681.60 720.35h-2.2M401.80 742.89h2.2M681.60 742.89h-2.2M401.80 765.43h2.2M681.60 765.43h-2.2" fill="none" stroke="#444" stroke-width="1"/>
<text transform="rotate(0.03 401.80 788.50)" x="401.80" y="788.50" font-size="9.5" text-anchor="middle">0</text>
<text transform="rotate(0.03 456.45 788.50)" x="456.45" y="788.50" font-size="9.5" text-anchor="middle">1000</text>
<text transform="rotate(0.03 511.10 788.50)" x="511.10" y="788.50" font-size="9.5" text-anchor="middle">2000</text>
<text transform="rotate(0.03 565.75 788.50)" x="565.75" y="788.50" font-size="9.5" text-anchor="middle">3000</text>
<text transform="rotate(0.03 620.39 788.50)" x="620.39" y="788.50" font-size="9.5" text-anchor="middle">4000</text>
<text transform="rotate(0.03 675.04 788.50)" x="675.04" y="788.50" font-size="9.5" text-anchor="middle">5000</text>
<text transform="rotate(0.03 396.70 553.90)" x="396.70" y="553.90" font-size="9.5" text-anchor="end">0.05</text>
<text transform="rotate(0.03 396.70 576.44)" x="396.70" y="576.44" font-size="9.5" text-anchor="end">0.04</text>
<text transform="rotate(0.03 396.70 598.98)" x="396.70" y="598.98" font-size="9.5" text-anchor="end">0.03</text>
<text transform="rotate(0.03 396.70 621.52)" x="396.70" y="621.52" font-size="9.5" text-anchor="end">0.02</text>
<text transform="rotate(0.03 396.70 644.06)" x="396.70" y="644.06" font-size="9.5" text-anchor="end">0.01</text>
<text transform="rotate(0.03 396.70 666.60)" x="396.70" y="666.60" font-size="9.5" text-anchor="end">0.00</text>
<text transform="rotate(0.03 396.70 689.14)" x="396.70" y="689.14" font-size="9.5" text-anchor="end">-0.01</text>
<text transform="rotate(0.03 396.70 711.68)" x="396.70" y="711.68" font-size="9.5" text-anchor="end">-0.02</text>
<text transform="rotate(0.03 396.70 734.22)" x="396.70" y="734.22" font-size="9.5" text-anchor="end">-0.03</text>
<text transform="rotate(0.03 396.70 756.76)" x="396.70" y="756.76" font-size="9.5" text-anchor="end">-0.04</text>
<text transform="rotate(0.03 396.70 779.30)" x="396.70" y="779.30" font-size="9.5" text-anchor="end">-0.05</text>
<text transform="rotate(0.03 541.70 807.50)" x="541.70" y="807.50" font-size="11.75" text-anchor="middle">Frequency (Hz)</text>
<text transform="translate(372.40 663.70) rotate(-89.97)" font-size="11.3" text-anchor="middle">Error</text>
<text transform="rotate(0.03 354.8 539.80)" x="354.8" y="539.80" font-size="13.4">(g)</text>
<text transform="rotate(0.03 566.4 579.10)" x="566.4" y="579.10" font-size="13.4">Max Error: 1.79%</text>
</g>
<g>
<path d="M53.93 1022.01C54.03 1020.52 54.03 1016.06 54.49 1013.09C54.95 1010.12 56.07 1007.14 56.72 1004.17C57.37 1001.20 57.83 998.78 58.39 995.25C58.95 991.73 59.51 988.01 60.06 982.99C60.62 977.98 61.18 971.10 61.74 965.16C62.29 959.21 62.85 953.27 63.41 947.32C63.96 941.38 63.43 944.05 65.08 929.49C66.73 914.93 71.80 872.33 73.28 859.96C74.77 847.58 73.74 856.81 74.00 855.26C74.26 853.71 74.51 852.36 74.82 850.66C75.12 848.95 75.50 846.74 75.84 845.04C76.18 843.33 76.52 841.80 76.86 840.44C77.20 839.08 77.54 837.88 77.88 836.86C78.22 835.84 78.53 835.11 78.91 834.31C79.28 833.51 79.45 832.84 80.13 832.06C80.81 831.27 82.00 829.98 82.99 829.61C83.98 829.23 85.04 829.37 86.06 829.81C87.08 830.25 88.36 831.51 89.12 832.26C89.89 833.01 90.06 833.49 90.66 834.31C91.25 835.12 92.02 836.15 92.70 837.17C93.38 838.19 94.06 839.35 94.74 840.44C95.43 841.53 96.11 842.60 96.79 843.71C97.47 844.82 98.15 846.01 98.83 847.08C99.51 848.15 100.19 849.12 100.88 850.15C101.56 851.17 102.20 852.19 102.92 853.21C103.64 854.23 104.44 855.33 105.17 856.28C105.89 857.23 106.40 857.87 107.26 858.91C108.12 859.94 109.31 861.37 110.33 862.48C111.35 863.59 112.37 864.73 113.39 865.55C114.42 866.36 115.44 866.93 116.46 867.39C117.48 867.85 118.59 868.14 119.53 868.31C120.46 868.48 121.23 868.44 122.08 868.41C122.93 868.37 123.70 868.37 124.64 868.10C125.57 867.83 126.68 867.37 127.70 866.77C128.72 866.18 129.74 865.41 130.77 864.53C131.79 863.64 132.81 862.57 133.83 861.46C134.85 860.35 135.88 859.16 136.90 857.88C137.92 856.61 138.94 855.16 139.96 853.80C140.99 852.43 142.01 851.02 143.03 849.71C144.05 848.40 145.07 847.45 146.09 845.93C147.12 844.40 148.17 842.04 149.20 840.55C150.23 839.05 151.24 838.16 152.26 836.97C153.28 835.78 154.31 834.50 155.33 833.39C156.35 832.29 157.37 831.21 158.39 830.33C159.42 829.44 160.44 828.68 161.46 828.08C162.48 827.48 163.50 827.09 164.53 826.75C165.55 826.41 166.65 826.17 167.59 826.04C168.53 825.90 169.29 825.90 170.15 825.93C171.00 825.97 171.76 826.02 172.70 826.24C173.64 826.46 174.74 826.75 175.77 827.26C176.79 827.77 177.81 828.49 178.83 829.31C179.85 830.12 180.88 831.15 181.90 832.17C182.92 833.19 183.94 834.25 184.96 835.44C185.99 836.63 187.01 837.96 188.03 839.32C189.05 840.68 190.07 842.13 191.09 843.61C192.12 845.09 192.81 845.97 194.16 848.21C195.51 850.45 197.68 854.44 199.20 857.06C200.72 859.67 201.92 861.69 203.28 863.91C204.65 866.12 206.01 868.21 207.37 870.34C208.73 872.47 210.10 874.69 211.46 876.68C212.82 878.67 214.18 880.51 215.55 882.30C216.91 884.09 218.27 885.76 219.64 887.41C221.00 889.06 222.36 890.68 223.72 892.21C225.09 893.74 226.45 895.19 227.81 896.61C229.17 898.02 230.54 899.38 231.90 900.69C233.26 902.00 234.62 903.23 235.99 904.47C237.35 905.72 238.71 906.96 240.07 908.15C241.44 909.35 242.80 910.49 244.16 911.63C245.52 912.77 246.89 913.93 248.25 915.00C249.61 916.07 251.14 917.31 252.34 918.07C253.53 918.82 254.07 918.65 255.44 919.53C256.81 920.40 258.84 922.06 260.55 923.31C262.25 924.55 263.95 925.78 265.66 926.99C267.36 928.19 269.06 929.37 270.77 930.56C272.47 931.75 274.17 933.00 275.88 934.14C277.58 935.28 279.28 936.32 280.99 937.41C282.69 938.50 284.56 939.74 286.09 940.68C287.63 941.62 288.99 942.35 290.18 943.03C291.37 943.71 292.74 944.48 293.25 944.77" fill="none" stroke="#ff8c1a" stroke-width="1.20" stroke-linejoin="round"/>
<path d="M53.93 1022.01C54.03 1020.52 54.03 1016.06 54.49 1013.09C54.95 1010.12 56.07 1007.14 56.72 1004.17C57.37 1001.20 57.83 998.78 58.39 995.25C58.95 991.73 59.51 988.01 60.06 982.99C60.62 977.98 61.18 971.10 61.74 965.16C62.29 959.21 62.85 953.27 63.41 947.32C63.96 941.38 63.43 944.05 65.08 929.49C66.73 914.93 71.75 872.50 73.28 859.96C74.82 847.41 73.97 856.21 74.31 854.23C74.65 852.26 74.90 850.15 75.33 848.10C75.75 846.06 76.35 843.93 76.86 841.97C77.37 840.01 77.80 837.97 78.39 836.35C78.99 834.73 79.84 833.23 80.44 832.26C81.03 831.29 81.03 830.87 81.97 830.53C82.91 830.18 85.04 829.90 86.06 830.22C87.08 830.54 87.42 831.62 88.10 832.47C88.78 833.32 89.29 834.09 90.15 835.33C91.00 836.57 92.27 838.31 93.21 839.93C94.15 841.55 94.83 843.42 95.77 845.04C96.70 846.65 97.81 847.93 98.83 849.64C99.85 851.34 100.96 853.64 101.90 855.26C102.83 856.87 103.39 857.88 104.45 859.34C105.52 860.80 106.96 862.64 108.28 864.01C109.60 865.39 111.18 866.65 112.37 867.59C113.56 868.53 114.42 869.07 115.44 869.64C116.46 870.20 117.52 870.69 118.50 870.96C119.49 871.24 120.43 871.27 121.36 871.27C122.30 871.27 123.24 871.15 124.12 870.96C125.01 870.78 125.83 870.54 126.68 870.15C127.53 869.75 128.21 869.29 129.23 868.61C130.26 867.93 131.79 867.00 132.81 866.06C133.83 865.12 134.34 864.18 135.36 862.99C136.39 861.80 137.83 860.35 138.94 858.91C140.05 857.46 140.95 855.75 142.01 854.31C143.06 852.86 144.16 851.83 145.28 850.22C146.39 848.61 147.61 846.16 148.69 844.64C149.77 843.11 150.64 842.37 151.75 841.06C152.86 839.75 154.14 838.04 155.33 836.77C156.52 835.49 157.80 834.33 158.91 833.39C160.01 832.46 160.95 831.74 161.97 831.15C162.99 830.55 164.10 830.14 165.04 829.82C165.97 829.49 166.74 829.31 167.59 829.20C168.44 829.10 169.29 829.09 170.15 829.20C171.00 829.32 171.85 829.56 172.70 829.92C173.55 830.28 174.15 830.64 175.26 831.35C176.36 832.07 177.98 833.02 179.34 834.21C180.71 835.40 182.07 837.11 183.43 838.50C184.79 839.90 186.33 841.14 187.52 842.59C188.71 844.04 189.56 845.83 190.58 847.19C191.61 848.55 192.47 849.26 193.65 850.77C194.83 852.27 196.57 854.82 197.66 856.24C198.76 857.66 199.11 857.86 200.22 859.31C201.33 860.75 203.20 863.39 204.31 864.93C205.41 866.46 205.75 866.97 206.86 868.50C207.97 870.04 209.84 872.68 210.95 874.12C212.06 875.57 212.43 875.91 213.50 877.19C214.58 878.47 216.28 880.43 217.39 881.79C218.49 883.15 218.92 883.92 220.15 885.36C221.37 886.81 223.47 889.06 224.74 890.47C226.02 891.89 226.53 892.48 227.81 893.85C229.09 895.21 231.05 897.34 232.41 898.65C233.77 899.96 234.62 900.35 235.99 901.72C237.35 903.08 239.22 905.51 240.58 906.82C241.95 908.14 242.80 908.44 244.16 909.58C245.52 910.73 247.40 912.55 248.76 913.67C250.12 914.80 250.97 915.18 252.34 916.33C253.70 917.47 255.35 919.25 256.97 920.55C258.59 921.85 260.46 922.97 262.08 924.12C263.70 925.28 265.23 926.47 266.68 927.50C268.13 928.52 269.23 929.17 270.77 930.26C272.30 931.35 274.00 932.76 275.88 934.04C277.75 935.31 280.13 936.73 282.01 937.92C283.88 939.11 285.33 940.17 287.12 941.19C288.91 942.21 291.80 943.57 292.74 944.05" fill="none" stroke="#2c2a90" stroke-width="1.40" stroke-dasharray="6.000 5.651" stroke-linejoin="round"/>
<path d="M30.80 817.20H310.40V1042.60" fill="none" stroke="#505050" stroke-width="1.25"/>
<path d="M30.80 817.20V1042.60H310.80" fill="none" stroke="#444" stroke-width="1.3"/>
<path d="M54.10 1042.60v-4.3M100.76 1042.60v-4.3M147.42 1042.60v-4.3M194.08 1042.60v-4.3M240.74 1042.60v-4.3M287.40 1042.60v-4.3M77.43 1042.60v-2.3M124.09 1042.60v-2.3M170.75 1042.60v-2.3M217.41 1042.60v-2.3M264.07 1042.60v-2.3M30.80 1022.11h4.3M30.80 981.13h4.3M30.80 940.15h4.3M30.80 899.16h4.3M30.80 858.18h4.3M30.80 817.20h4.3M30.80 1042.60h2.3M30.80 1001.62h2.3M30.80 960.64h2.3M30.80 919.65h2.3M30.80 878.67h2.3M30.80 837.69h2.3" fill="none" stroke="#444" stroke-width="1"/>
<text transform="rotate(0.03 54.10 1054.40)" x="54.10" y="1054.40" font-size="9.5" text-anchor="middle">0</text>
<text transform="rotate(0.03 100.76 1054.40)" x="100.76" y="1054.40" font-size="9.5" text-anchor="middle">1000</text>
<text transform="rotate(0.03 147.42 1054.40)" x="147.42" y="1054.40" font-size="9.5" text-anchor="middle">2000</text>
<text transform="rotate(0.03 194.08 1054.40)" x="194.08" y="1054.40" font-size="9.5" text-anchor="middle">3000</text>
<text transform="rotate(0.03 240.74 1054.40)" x="240.74" y="1054.40" font-size="9.5" text-anchor="middle">4000</text>
<text transform="rotate(0.03 287.40 1054.40)" x="287.40" y="1054.40" font-size="9.5" text-anchor="middle">5000</text>
<text transform="rotate(0.03 26.00 1024.61)" x="26.00" y="1024.61" font-size="9.5" text-anchor="end">0.0</text>
<text transform="rotate(0.03 26.00 983.63)" x="26.00" y="983.63" font-size="9.5" text-anchor="end">0.2</text>
<text transform="rotate(0.03 26.00 942.65)" x="26.00" y="942.65" font-size="9.5" text-anchor="end">0.4</text>
<text transform="rotate(0.03 26.00 901.66)" x="26.00" y="901.66" font-size="9.5" text-anchor="end">0.6</text>
<text transform="rotate(0.03 26.00 860.68)" x="26.00" y="860.68" font-size="9.5" text-anchor="end">0.8</text>
<text transform="rotate(0.03 26.00 819.70)" x="26.00" y="819.70" font-size="9.5" text-anchor="end">1.0</text>
<text transform="rotate(0.03 170.80 1073.40)" x="170.80" y="1073.40" font-size="11.75" text-anchor="middle">Frequency (Hz)</text>
<text transform="translate(8.60 930.10) rotate(-89.97)" font-size="11.8" text-anchor="middle">Absorption coefficient</text>
<text transform="rotate(0.03 3.10 806.00)" x="3.10" y="806.00" font-size="13.4">(d)</text>
<path d="M247.10 825.50h27.6" stroke="#ff8c1a" stroke-width="1.20"/>
<path d="M247.10 839.20h26.8" stroke="#2c2a90" stroke-width="1.40" stroke-dasharray="5.6 5.6"/>
<text transform="rotate(0.03 277.40 828.60)" x="277.40" y="828.60" font-size="11.4">Input</text>
<text transform="rotate(0.03 277.40 842.90)" x="277.40" y="842.90" font-size="11.4">Output</text>
</g>
<g>
<path d="M402.10 929.64C402.19 931.09 402.11 936.35 402.66 938.32C403.21 940.30 404.42 940.51 405.41 941.50C406.40 942.48 407.63 943.54 408.58 944.25C409.54 944.95 410.24 946.01 411.12 945.73C412.01 945.45 412.96 944.32 413.88 942.55C414.79 940.79 415.75 937.30 416.63 935.15C417.51 932.99 418.32 931.23 419.17 929.64C420.01 928.05 420.65 926.50 421.71 925.62C422.77 924.74 424.18 924.63 425.52 924.35C426.86 924.07 428.34 924.24 429.75 923.93C431.16 923.61 432.57 923.40 433.99 922.45C435.40 921.49 436.63 920.15 438.22 918.21C439.81 916.27 441.75 913.10 443.51 910.80C445.27 908.51 447.04 906.15 448.80 904.45C450.57 902.76 452.33 901.52 454.09 900.64C455.86 899.76 457.80 899.48 459.39 899.16C460.97 898.84 462.03 898.70 463.62 898.74C465.21 898.77 466.80 898.91 468.91 899.37C471.03 899.83 473.68 900.82 476.32 901.49C478.97 902.16 481.97 903.04 484.79 903.39C487.61 903.75 490.43 903.43 493.26 903.61C496.08 903.78 499.25 903.96 501.72 904.45C504.19 904.95 505.96 905.83 508.07 906.57C510.19 907.31 512.48 908.37 514.42 908.90C516.36 909.43 517.95 909.85 519.72 909.74C521.48 909.64 523.07 909.32 525.01 908.26C526.95 907.20 529.24 905.44 531.36 903.39C533.47 901.35 536.27 897.93 537.71 895.99C539.15 894.05 538.91 893.34 540.00 891.75C541.09 890.16 542.82 887.80 544.23 886.46C545.64 885.12 547.06 884.31 548.47 883.71C549.88 883.11 551.29 882.76 552.70 882.86C554.11 882.97 555.52 883.39 556.93 884.34C558.35 885.30 559.58 886.28 561.17 888.58C562.76 890.87 564.70 894.57 566.46 898.10C568.22 901.63 569.99 905.69 571.75 909.74C573.52 913.80 575.63 919.13 577.04 922.45C578.45 925.76 578.98 926.82 580.22 929.64C581.45 932.46 582.86 936.35 584.45 939.38C586.04 942.41 587.98 945.55 589.74 947.85C591.51 950.14 593.27 951.83 595.04 953.14C596.80 954.44 598.74 955.15 600.33 955.68C601.92 956.21 602.80 956.38 604.56 956.31C606.33 956.24 608.62 956.14 610.91 955.26C613.21 954.37 615.68 952.79 618.32 951.02C620.97 949.26 623.97 946.79 626.79 944.67C629.61 942.55 632.43 940.33 635.26 938.32C638.08 936.31 641.25 934.02 643.72 932.61C646.19 931.19 648.13 930.45 650.07 929.85C652.01 929.25 653.42 929.01 655.36 929.01C657.31 929.01 659.42 929.18 661.72 929.85C664.01 930.52 666.83 931.97 669.12 933.03C671.42 934.09 673.45 935.15 675.47 936.20C677.50 937.26 680.33 938.85 681.30 939.38L681.30 929.90L402.10 929.90Z" fill="#00ffff" stroke="none"/>
<path d="M401.80 929.90H681.60" stroke="#000" stroke-opacity="0.72" stroke-width="1.3"/>
<rect x="401.80" y="817.20" width="279.80" height="225.40" fill="none" stroke="#444" stroke-width="1.2"/>
<path d="M456.45 1042.60v-4.2M456.45 817.20v4.2M511.10 1042.60v-4.2M511.10 817.20v4.2M565.75 1042.60v-4.2M565.75 817.20v4.2M620.39 1042.60v-4.2M620.39 817.20v4.2M675.04 1042.60v-4.2M675.04 817.20v4.2M429.12 1042.60v-2.2M429.12 817.20v2.2M483.77 1042.60v-2.2M483.77 817.20v2.2M538.42 1042.60v-2.2M538.42 817.20v2.2M593.07 1042.60v-2.2M593.07 817.20v2.2M647.72 1042.60v-2.2M647.72 817.20v2.2M401.80 839.74h4.2M681.60 839.74h-4.2M401.80 862.28h4.2M681.60 862.28h-4.2M401.80 884.82h4.2M681.60 884.82h-4.2M401.80 907.36h4.2M681.60 907.36h-4.2M401.80 929.90h4.2M681.60 929.90h-4.2M401.80 952.44h4.2M681.60 952.44h-4.2M401.80 974.98h4.2M681.60 974.98h-4.2M401.80 997.52h4.2M681.60 997.52h-4.2M401.80 1020.06h4.2M681.60 1020.06h-4.2M401.80 828.47h2.2M681.60 828.47h-2.2M401.80 851.01h2.2M681.60 851.01h-2.2M401.80 873.55h2.2M681.60 873.55h-2.2M401.80 896.09h2.2M681.60 896.09h-2.2M401.80 918.63h2.2M681.60 918.63h-2.2M401.80 941.17h2.2M681.60 941.17h-2.2M401.80 963.71h2.2M681.60 963.71h-2.2M401.80 986.25h2.2M681.60 986.25h-2.2M401.80 1008.79h2.2M681.60 1008.79h-2.2M401.80 1031.33h2.2M681.60 1031.33h-2.2" fill="none" stroke="#444" stroke-width="1"/>
<text transform="rotate(0.03 401.80 1054.40)" x="401.80" y="1054.40" font-size="9.5" text-anchor="middle">0</text>
<text transform="rotate(0.03 456.45 1054.40)" x="456.45" y="1054.40" font-size="9.5" text-anchor="middle">1000</text>
<text transform="rotate(0.03 511.10 1054.40)" x="511.10" y="1054.40" font-size="9.5" text-anchor="middle">2000</text>
<text transform="rotate(0.03 565.75 1054.40)" x="565.75" y="1054.40" font-size="9.5" text-anchor="middle">3000</text>
<text transform="rotate(0.03 620.39 1054.40)" x="620.39" y="1054.40" font-size="9.5" text-anchor="middle">4000</text>
<text transform="rotate(0.03 675.04 1054.40)" x="675.04" y="1054.40" font-size="9.5" text-anchor="middle">5000</text>
<text transform="rotate(0.03 396.70 819.80)" x="396.70" y="819.80" font-size="9.5" text-anchor="end">0.05</text>
<text transform="rotate(0.03 396.70 842.34)" x="396.70" y="842.34" font-size="9.5" text-anchor="end">0.04</text>
<text transform="rotate(0.03 396.70 864.88)" x="396.70" y="864.88" font-size="9.5" text-anchor="end">0.03</text>
<text transform="rotate(0.03 396.70 887.42)" x="396.70" y="887.42" font-size="9.5" text-anchor="end">0.02</text>
<text transform="rotate(0.03 396.70 909.96)" x="396.70" y="909.96" font-size="9.5" text-anchor="end">0.01</text>
<text transform="rotate(0.03 396.70 932.50)" x="396.70" y="932.50" font-size="9.5" text-anchor="end">0.00</text>
<text transform="rotate(0.03 396.70 955.04)" x="396.70" y="955.04" font-size="9.5" text-anchor="end">-0.01</text>
<text transform="rotate(0.03 396.70 977.58)" x="396.70" y="977.58" font-size="9.5" text-anchor="end">-0.02</text>
<text transform="rotate(0.03 396.70 1000.12)" x="396.70" y="1000.12" font-size="9.5" text-anchor="end">-0.03</text>
<text transform="rotate(0.03 396.70 1022.66)" x="396.70" y="1022.66" font-size="9.5" text-anchor="end">-0.04</text>
<text transform="rotate(0.03 396.70 1045.20)" x="396.70" y="1045.20" font-size="9.5" text-anchor="end">-0.05</text>
<text transform="rotate(0.03 541.70 1073.40)" x="541.70" y="1073.40" font-size="11.75" text-anchor="middle">Frequency (Hz)</text>
<text transform="translate(372.40 929.70) rotate(-89.97)" font-size="11.3" text-anchor="middle">Error</text>
<text transform="rotate(0.03 354.8 805.80)" x="354.8" y="805.80" font-size="13.4">(h)</text>
<text transform="rotate(0.03 566.4 845.40)" x="566.4" y="845.40" font-size="13.4">Max Error: 2.06%</text>
</g>
</g></svg></body></html>
